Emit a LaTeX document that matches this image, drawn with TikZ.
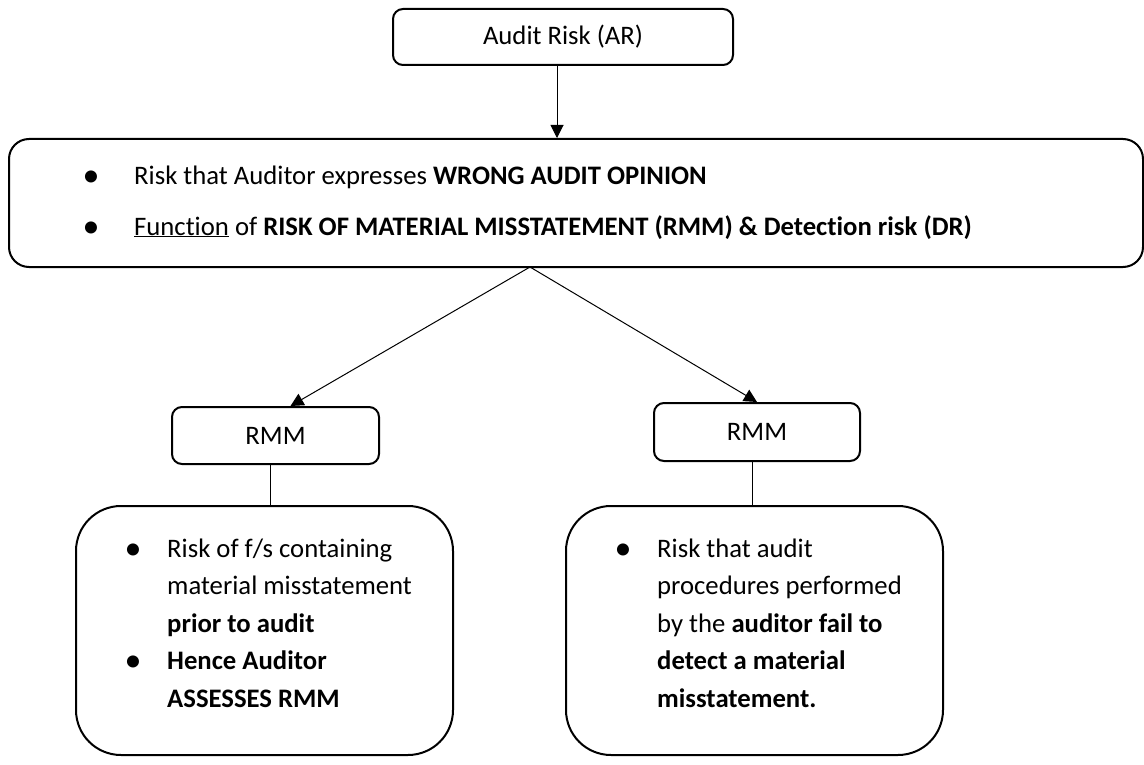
\documentclass[tikz,border=0pt]{standalone}
\usepackage{fontspec}
\setmainfont{Carlito}[Ligatures=NoCommon]
\usetikzlibrary{arrows.meta}
\begin{document}
\begin{tikzpicture}[x=1pt,y=-1pt,
  txt/.style={font=\fontsize{26.7}{30}\selectfont},
  box/.style={draw, line width=2pt, rounded corners=#1, inner sep=0pt, txt},
  line/.style={anchor=base west, inner sep=0pt, txt},
  dot/.style={anchor=base, inner sep=0pt, font=\fontsize{34}{34}\selectfont},
  link/.style={line width=1pt},
  arr/.style={link, -{Triangle[width=13pt,length=13pt]}}]
\useasboundingbox (0,0) rectangle (1144,765);

% boxes
\node[box=10pt, minimum width=340pt, minimum height=56pt] (ar) at (563,37) {Audit Risk (AR)};
\node[box=20pt, minimum width=1134pt, minimum height=128pt] (def) at (576,203) {};
\node[box=10pt, minimum width=207pt, minimum height=57pt] (rmmL) at (275.5,435.5) {RMM};
\node[box=10pt, minimum width=206pt, minimum height=58pt] (rmmR) at (757,432) {RMM};
\node[box=45pt, minimum width=377pt, minimum height=249pt] (descL) at (264.5,630.5) {};
\node[box=45pt, minimum width=377pt, minimum height=249pt] (descR) at (754.5,630.5) {};

% definition text
\node[dot] (d1) at (91,187) {•};
\node[line] (t1) at (134,185) {Risk that Auditor expresses \textbf{WRONG AUDIT OPINION}};
\node[dot] (d2) at (91,237) {•};
\node[line] (t2) at (134,235) {\underline{Function} of \textbf{RISK OF MATERIAL MISSTATEMENT (RMM) \& Detection risk (DR)}};

% left description
\node[dot] (l1d) at (133,559) {•};
\node[line] (l1) at (167,557) {Risk of f/s containing};
\node[line] (l2) at (167,594.5) {material misstatement};
\node[line] (l3) at (167,632) {\textbf{prior to audit}};
\node[dot] (l4d) at (133,671.5) {•};
\node[line] (l4) at (167,669.5) {\textbf{Hence Auditor}};
\node[line] (l5) at (167,707) {\textbf{ASSESSES RMM}};

% right description
\node[dot] (r1d) at (623,559) {•};
\node[line] (r1) at (657,557) {Risk that audit};
\node[line] (r2) at (657,594.5) {procedures performed};
\node[line] (r3) at (657,632) {by the \textbf{auditor fail to}};
\node[line] (r4) at (657,669.5) {\textbf{detect a material}};
\node[line] (r5) at (657,707) {\textbf{misstatement.}};

% connectors
\coordinate (apex) at (530,267);
\draw[arr] ([xshift=-6pt]ar.south) -- ([xshift=-6pt]ar.south |- def.north);
\draw[arr] (apex) -- ([xshift=15pt]rmmL.north);
\draw[arr] (apex) -- (rmmR.north);
\draw[link] ([xshift=-5.5pt]rmmL.south) -- ([xshift=-5.5pt]rmmL.south |- descL.north);
\draw[link] ([xshift=-5pt]rmmR.south) -- ([xshift=-5pt]rmmR.south |- descR.north);
\end{tikzpicture}
\end{document}
